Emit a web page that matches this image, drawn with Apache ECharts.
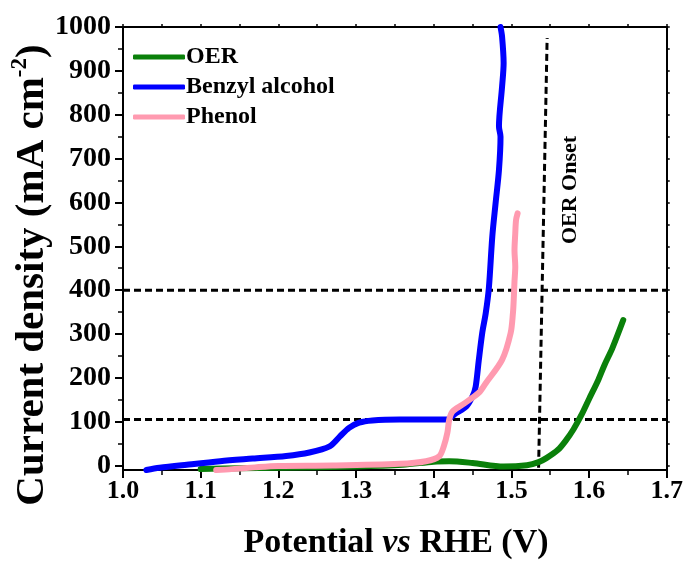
<!DOCTYPE html>
<html>
<head>
<meta charset="utf-8">
<script src="https://cdn.jsdelivr.net/npm/echarts@6/dist/echarts.min.js"></script>
<style>html,body{margin:0;padding:0;background:#fff;}#c{width:686px;height:563px;}</style>
</head>
<body>
<div id="c"></div>
<script>
// ---- data ----
const oerV = [1.10, 1.15, 1.20, 1.30, 1.36, 1.40, 1.42, 1.45, 1.49, 1.52, 1.535, 1.545, 1.56, 1.57, 1.58, 1.59, 1.60, 1.612, 1.62, 1.63, 1.644];
const oerJ = [-8, -6, -5, -2, 2, 9, 10, 6, -2, 1, 8, 17, 36, 57, 83, 115, 152, 196, 230, 268, 332];

const bzV = [1.03, 1.047, 1.082, 1.125, 1.167, 1.21, 1.24, 1.266, 1.279, 1.291, 1.304, 1.321, 1.356, 1.416, 1.429, 1.442, 1.450, 1.454, 1.458, 1.4625, 1.467, 1.471, 1.4754, 1.4797, 1.484, 1.486, 1.484, 1.488, 1.490, 1.488, 1.486];
const bzJ = [-10, -5, 2, 10, 16, 22, 30, 44, 66, 86, 98, 103, 105, 105, 120, 135, 158, 180, 240, 303, 348, 405, 522, 599, 674, 750, 773, 864, 918, 978, 1000];

const phV = [1.12, 1.14, 1.17, 1.20, 1.27, 1.356, 1.39, 1.407, 1.413, 1.4176, 1.42, 1.424, 1.437, 1.458, 1.467, 1.488, 1.499, 1.502, 1.503, 1.504, 1.505, 1.504, 1.505, 1.506, 1.508];
const phJ = [-10, -8, -4, -1, 0, 4, 10, 21, 44, 75, 105, 123, 139, 166, 188, 241, 302, 348, 378, 420, 454, 490, 530, 560, 575];

const hLineJ = [400, 105];
const onsetV = [1.535, 1.546];
const onsetJ = [-5, 975];

const yTickLabels = [0, 100, 200, 300, 400, 500, 600, 700, 800, 900, 1000];
const yMinorTicks = [50, 150, 250, 350, 450, 550, 650, 750, 850, 950];
const yRightTicks = [0, 50, 100, 150, 200, 250, 300, 350, 400, 450, 500, 550, 600, 650, 700, 750, 800, 850, 900, 950, 1000];

const names = ['OER', 'Benzyl alcohol', 'Phenol'];
const colors = ['#0a800a', '#0000ff', '#ff9ab0'];

function pairs(xs, ys) { return xs.map((x, i) => [x, ys[i]]); }

const FONT = "'Liberation Serif','Times New Roman',serif";
const chart = echarts.init(document.getElementById('c'), null, {renderer: 'canvas'});

const axisLine = {show: true, onZero: false, lineStyle: {color: '#000', width: 2}};

const series = [
  {name: names[0], data: pairs(oerV, oerJ)},
  {name: names[1], data: pairs(bzV, bzJ)},
  {name: names[2], data: pairs(phV, phJ)}
].map((s, i) => ({
  name: s.name, type: 'line', data: s.data, showSymbol: false, smooth: 0.3,
  color: colors[i], lineStyle: {width: 6, color: colors[i], cap: 'round', join: 'round'},
  z: 3 + i, animation: false
}));

hLineJ.forEach(j => {
  series.push({type: 'line', data: [[1.0, j], [1.7, j]], showSymbol: false, silent: true,
    lineStyle: {color: '#000', width: 3, type: [7, 4]}, z: 2, animation: false});
});
series.push({type: 'line', data: pairs(onsetV, onsetJ), showSymbol: false, silent: true,
  lineStyle: {color: '#000', width: 3, type: [7, 4]}, z: 2, animation: false});

chart.setOption({
  backgroundColor: '#fff',
  animation: false,
  grid: {left: 123, right: 18, top: 27, bottom: 93},
  legend: {
    data: names, orient: 'vertical', left: 128, top: 40, itemWidth: 52, itemHeight: 5, itemGap: 6,
    icon: 'roundRect',
    textStyle: {fontFamily: FONT, fontWeight: 'bold', fontSize: 24, color: '#000', lineHeight: 24, padding: [0, 0, 0, -4]}
  },
  xAxis: [
    {type: 'value', min: 1.0, max: 1.7, interval: 0.1, position: 'bottom',
      axisLine: axisLine,
      axisTick: {show: true, inside: false, length: 8, lineStyle: {color: '#000', width: 2}},
      minorTick: {show: true, splitNumber: 2, length: 5, lineStyle: {color: '#000', width: 1.5}},
      splitLine: {show: false},
      axisLabel: {margin: 8, color: '#000', fontFamily: FONT, fontWeight: 'bold', fontSize: 26,
        formatter: v => v.toFixed(1)}
    },
    {type: 'value', min: 1.0, max: 1.7, interval: 0.05, position: 'top',
      axisLine: axisLine,
      axisTick: {show: true, inside: false, length: 3, lineStyle: {color: '#000', width: 1.5}},
      splitLine: {show: false}, axisLabel: {show: false}
    }
  ],
  yAxis: [
    {type: 'value', min: -10, max: 1000, position: 'left',
      axisLine: axisLine,
      axisTick: {show: true, inside: false, length: 8, customValues: yTickLabels, lineStyle: {color: '#000', width: 2}},
      splitLine: {show: false},
      axisLabel: {margin: 12, color: '#000', fontFamily: FONT, fontWeight: 'bold', fontSize: 28,
        customValues: yTickLabels, formatter: v => String(v)}
    },
    {type: 'value', min: -10, max: 1000, position: 'left',
      axisLine: {show: false},
      axisTick: {show: true, inside: false, length: 5, customValues: yMinorTicks, lineStyle: {color: '#000', width: 1.5}},
      splitLine: {show: false}, axisLabel: {show: false, customValues: yMinorTicks}
    },
    {type: 'value', min: -10, max: 1000, position: 'right',
      axisLine: axisLine,
      axisTick: {show: true, inside: false, length: 3, customValues: yRightTicks, lineStyle: {color: '#000', width: 1.5}},
      splitLine: {show: false}, axisLabel: {show: false, customValues: yRightTicks}
    }
  ],
  series: series,
  graphic: [
    {type: 'text', x: 396, y: 543, z: 10,
      style: {text: '{a|Potential }{i|vs}{a| RHE (V)}', align: 'center', verticalAlign: 'middle',
        rich: {
          a: {fontFamily: FONT, fontWeight: 'bold', fontSize: 34, fill: '#000'},
          i: {fontFamily: FONT, fontWeight: 'bold', fontStyle: 'italic', fontSize: 34, fill: '#000'}
        }}},
    {type: 'text', x: 32, y: 275, rotation: Math.PI / 2, z: 10,
      style: {text: '{a|Current density (mA cm}{s|-2}{a|)}', align: 'center', verticalAlign: 'middle',
        rich: {
          a: {fontFamily: FONT, fontWeight: 'bold', fontSize: 41, fill: '#000', lineHeight: 46},
          s: {fontFamily: FONT, fontWeight: 'bold', fontSize: 23, fill: '#000', verticalAlign: 'top', lineHeight: 46}
        }}},
    {type: 'text', x: 570, y: 190, rotation: Math.PI / 2, z: 10,
      style: {text: 'OER Onset', align: 'center', verticalAlign: 'middle',
        fontFamily: FONT, fontWeight: 'bold', fontSize: 22, fill: '#000'}}
  ]
});
</script>
</body>
</html>
